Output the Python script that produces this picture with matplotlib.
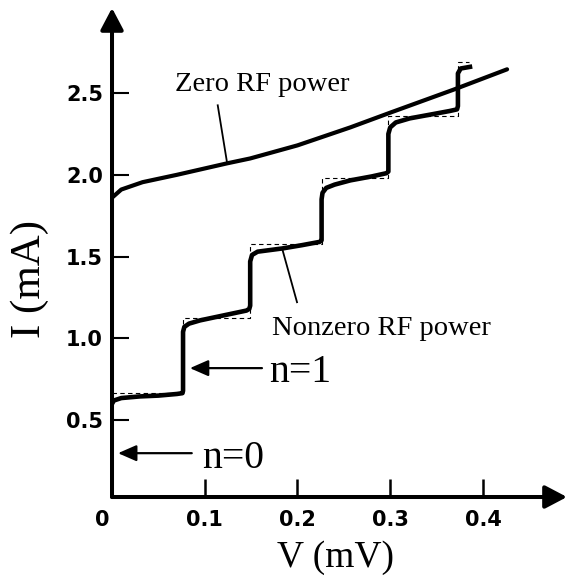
import matplotlib
matplotlib.use("Agg")
import matplotlib.pyplot as plt
import matplotlib.transforms as mtransforms

# I-V curve of a Josephson junction, with and without RF drive
zero_v = [0.0, 0.01, 0.033, 0.07, 0.124, 0.149, 0.20, 0.257, 0.30, 0.368, 0.426]
zero_i = [1.86, 1.91, 1.955, 2.0, 2.07, 2.10, 2.18, 2.29, 2.38, 2.52, 2.645]

rf_v = [0.0, 0.002, 0.01, 0.03, 0.05, 0.070, 0.0760, 0.0766, 0.0766, 0.078, 0.083,
        0.095, 0.12, 0.145, 0.148, 0.149, 0.149, 0.151, 0.157, 0.184, 0.205, 0.224,
        0.226, 0.226, 0.227, 0.231, 0.240, 0.257, 0.280, 0.296, 0.298, 0.298, 0.300,
        0.306, 0.321, 0.345, 0.364, 0.372, 0.373, 0.373, 0.376, 0.386]
rf_i = [0.60, 0.62, 0.635, 0.645, 0.65, 0.66, 0.665, 0.68, 1.04, 1.07, 1.09,
        1.11, 1.14, 1.17, 1.18, 1.20, 1.47, 1.51, 1.53, 1.55, 1.57, 1.59,
        1.60, 1.85, 1.89, 1.92, 1.94, 1.966, 1.99, 2.01, 2.02, 2.25, 2.29,
        2.32, 2.345, 2.37, 2.39, 2.40, 2.42, 2.62, 2.65, 2.66]

# ideal Shapiro staircase (dashed)
step_v = [0.0, 0.0766, 0.0766, 0.149, 0.149, 0.226, 0.226, 0.298, 0.298, 0.373, 0.373, 0.385]
step_i = [0.665, 0.665, 1.125, 1.125, 1.575, 1.575, 1.98, 1.98, 2.36, 2.36, 2.69, 2.69]

xticks = [0, 0.1, 0.2, 0.3, 0.4]
xticklabels = ["0", "0.1", "0.2", "0.3", "0.4"]
yticks = [0.5, 1.0, 1.5, 2.0, 2.5]
yticklabels = ["0.5", "1.0", "1.5", "2.0", "2.5"]

serif = "Liberation Serif"

fig = plt.figure(figsize=(5.68, 5.83), dpi=100)
ax = fig.add_axes([0.1972, 0.1475, 0.8010, 0.8388])
ax.set_xlim(0, 0.4906)
ax.set_ylim(0.03, 3.02)
for s in ax.spines.values():
    s.set_visible(False)

# axes drawn as arrows
arrow_kw = dict(arrowstyle="-|>,head_length=0.95,head_width=0.5", lw=2.9,
                color="black", mutation_scale=14, shrinkA=0, shrinkB=0)
ax.annotate("", xy=(0, 1), xytext=(0, 0), xycoords="axes fraction",
            arrowprops=arrow_kw, annotation_clip=False)
ax.annotate("", xy=(1, 0), xytext=(0, 0), xycoords="axes fraction",
            arrowprops=arrow_kw, annotation_clip=False)

ax.plot(step_v, step_i, color="black", lw=0.8, ls=(0, (4, 3)))
ax.plot(zero_v, zero_i, color="black", lw=3.0, solid_capstyle="round")
ax.plot(rf_v, rf_i, color="black", lw=3.3, solid_joinstyle="round")

ax.set_xticks(xticks)
ax.set_xticklabels(xticklabels)
ax.set_yticks(yticks)
ax.set_yticklabels(yticklabels)
ax.tick_params(axis="x", direction="in", length=13, width=1.8, pad=9.5)
ax.tick_params(axis="y", direction="in", length=12, width=1.5, pad=6.5)
for lab in ax.get_xticklabels() + ax.get_yticklabels():
    lab.set_fontfamily("DejaVu Sans")
    lab.set_fontweight("bold")
    lab.set_fontsize(15)
zero_lab = ax.get_xticklabels()[0]
zero_lab.set_transform(zero_lab.get_transform() +
                       mtransforms.ScaledTranslation(-10 / 100, 0, fig.dpi_scale_trans))

# labels for the two curves
ax.text(0.068, 2.51, "Zero RF power", family=serif, fontsize=20.5, va="baseline")
ax.plot([0.114, 0.124], [2.425, 2.076], color="black", lw=1.3)
ax.text(0.1725, 1.019, "Nonzero RF power", family=serif, fontsize=20.5, va="baseline")
ax.plot([0.184, 0.1995], [1.538, 1.221], color="black", lw=1.3)

# step index markers
small_arrow = dict(arrowstyle="-|>,head_length=0.8,head_width=0.35", lw=1.6,
                   color="black", mutation_scale=14, shrinkA=0, shrinkB=0)
ax.annotate("", xy=(0.084, 0.818), xytext=(0.1617, 0.818), arrowprops=small_arrow)
ax.text(0.169, 0.733, "n=1", family=serif, fontsize=28.5, va="baseline")
ax.annotate("", xy=(0.0065, 0.298), xytext=(0.086, 0.298), arrowprops=small_arrow)
ax.text(0.097, 0.207, "n=0", family=serif, fontsize=28.5, va="baseline")

fig.text(0.053, 0.522, "I (mA)", family=serif, fontsize=31, rotation=90,
         ha="center", va="center")
fig.text(0.5915, 0.0274, "V (mV)", family=serif, fontsize=27,
         ha="center", va="baseline")

fig.savefig("out.png", dpi=100)
